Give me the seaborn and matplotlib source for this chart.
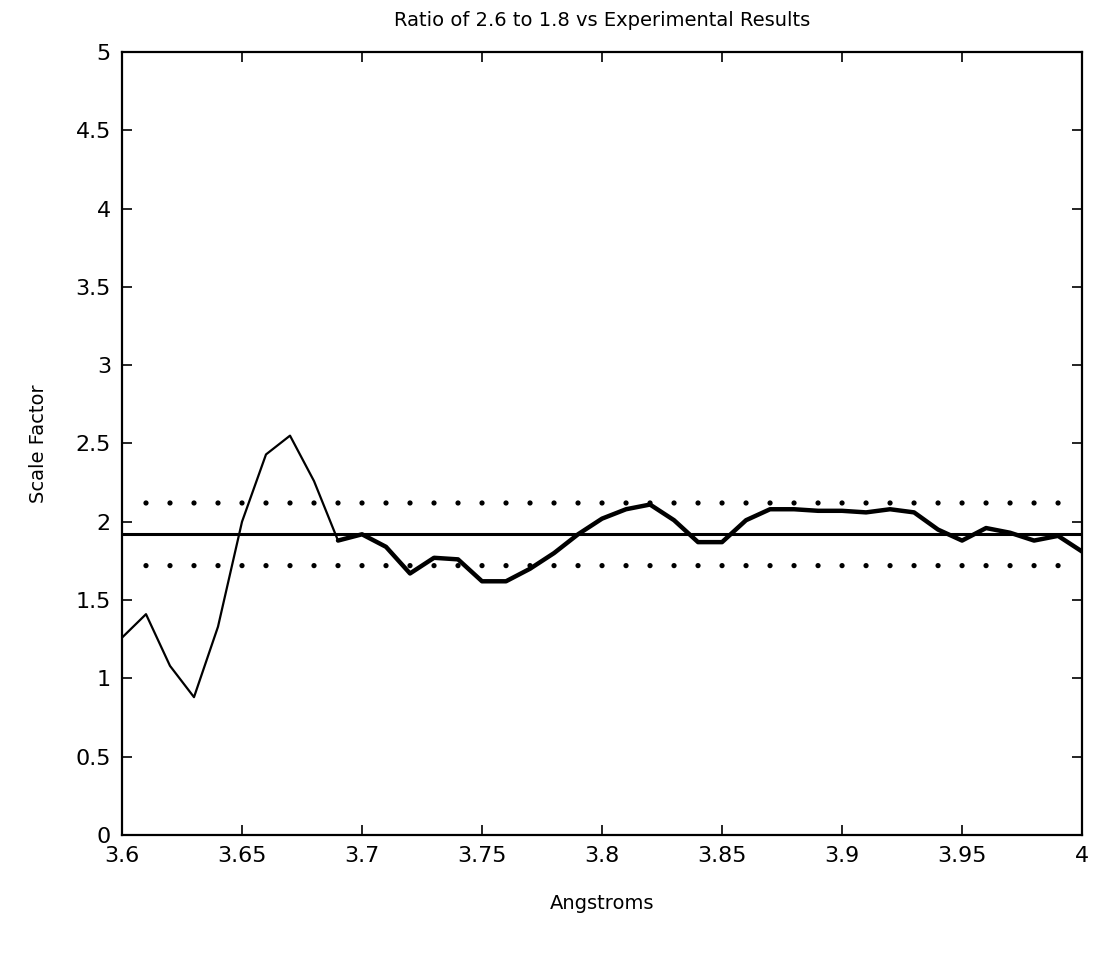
import numpy as np
import pandas as pd
import matplotlib
matplotlib.use("Agg")
import matplotlib.pyplot as plt
import seaborn as sns

# Angstrom positions and measured scale-factor ratio
angstroms = [3.60, 3.61, 3.62, 3.63, 3.64, 3.65, 3.66, 3.67, 3.68, 3.69,
             3.70, 3.71, 3.72, 3.73, 3.74, 3.75, 3.76, 3.77, 3.78, 3.79,
             3.80, 3.81, 3.82, 3.83, 3.84, 3.85, 3.86, 3.87, 3.88, 3.89,
             3.90, 3.91, 3.92, 3.93, 3.94, 3.95, 3.96, 3.97, 3.98, 3.99, 4.00]
scale_factor = [1.26, 1.41, 1.08, 0.88, 1.33, 2.00, 2.43, 2.55, 2.26, 1.88,
                1.92, 1.84, 1.67, 1.77, 1.76, 1.62, 1.62, 1.70, 1.80, 1.92,
                2.02, 2.08, 2.11, 2.01, 1.87, 1.87, 2.01, 2.08, 2.08, 2.07,
                2.07, 2.06, 2.08, 2.06, 1.95, 1.88, 1.96, 1.93, 1.88, 1.91, 1.81]
# Experimental mean and bounds
mean_value = 1.92
upper_bound = 2.12
lower_bound = 1.72
# Start of the overlapping (thick) stretch
overlap_start = 3.69

x_ticks = [3.6, 3.65, 3.7, 3.75, 3.8, 3.85, 3.9, 3.95, 4.0]
x_tick_labels = ["3.6", "3.65", "3.7", "3.75", "3.8", "3.85", "3.9", "3.95", "4"]
y_ticks = [0, 0.5, 1, 1.5, 2, 2.5, 3, 3.5, 4, 4.5, 5]
y_tick_labels = ["0", "0.5", "1", "1.5", "2", "2.5", "3", "3.5", "4", "4.5", "5"]

df = pd.DataFrame({"Angstroms": angstroms, "Scale Factor": scale_factor})
df_overlap = df[df["Angstroms"] >= overlap_start - 1e-9]

sns.set_theme(style="ticks")
plt.rcParams["font.family"] = ["DejaVu Sans"]
plt.rcParams["text.color"] = "black"
plt.rcParams["axes.labelcolor"] = "black"
plt.rcParams["xtick.color"] = "black"
plt.rcParams["ytick.color"] = "black"

fig = plt.figure(figsize=(11.01, 9.57), dpi=100)
ax = fig.add_axes([0.1108, 0.1275, 0.8720, 0.8182])

sns.lineplot(data=df, x="Angstroms", y="Scale Factor", ax=ax,
             color="black", linewidth=1.6)
sns.lineplot(data=df_overlap, x="Angstroms", y="Scale Factor", ax=ax,
             color="black", linewidth=3.2)

ax.axhline(mean_value, color="black", linewidth=2.2)
bound_df = pd.DataFrame({
    "Angstroms": angstroms[1:-1] * 2,
    "Bound": [upper_bound] * (len(angstroms) - 2) + [lower_bound] * (len(angstroms) - 2),
})
sns.scatterplot(data=bound_df, x="Angstroms", y="Bound", ax=ax,
                color="black", s=14, edgecolor="none")

ax.set_xlim(3.6, 4.0)
ax.set_ylim(0, 5)
ax.set_xticks(x_ticks)
ax.set_xticklabels(x_tick_labels, fontsize=16, fontweight="medium")
ax.set_yticks(y_ticks)
ax.set_yticklabels(y_tick_labels, fontsize=16, fontweight="medium")
ax.tick_params(direction="in", length=7, width=1.2, top=True, right=True, pad=8)

for spine in ax.spines.values():
    spine.set_linewidth(1.6)
    spine.set_color("black")

ax.set_title("Ratio of 2.6 to 1.8 vs Experimental Results", fontsize=14,
             fontweight="medium", pad=19)
ax.set_xlabel("Angstroms", fontsize=14, labelpad=20)
ax.set_ylabel("Scale Factor", fontsize=14, labelpad=20)

fig.savefig("out.png", dpi=100)
